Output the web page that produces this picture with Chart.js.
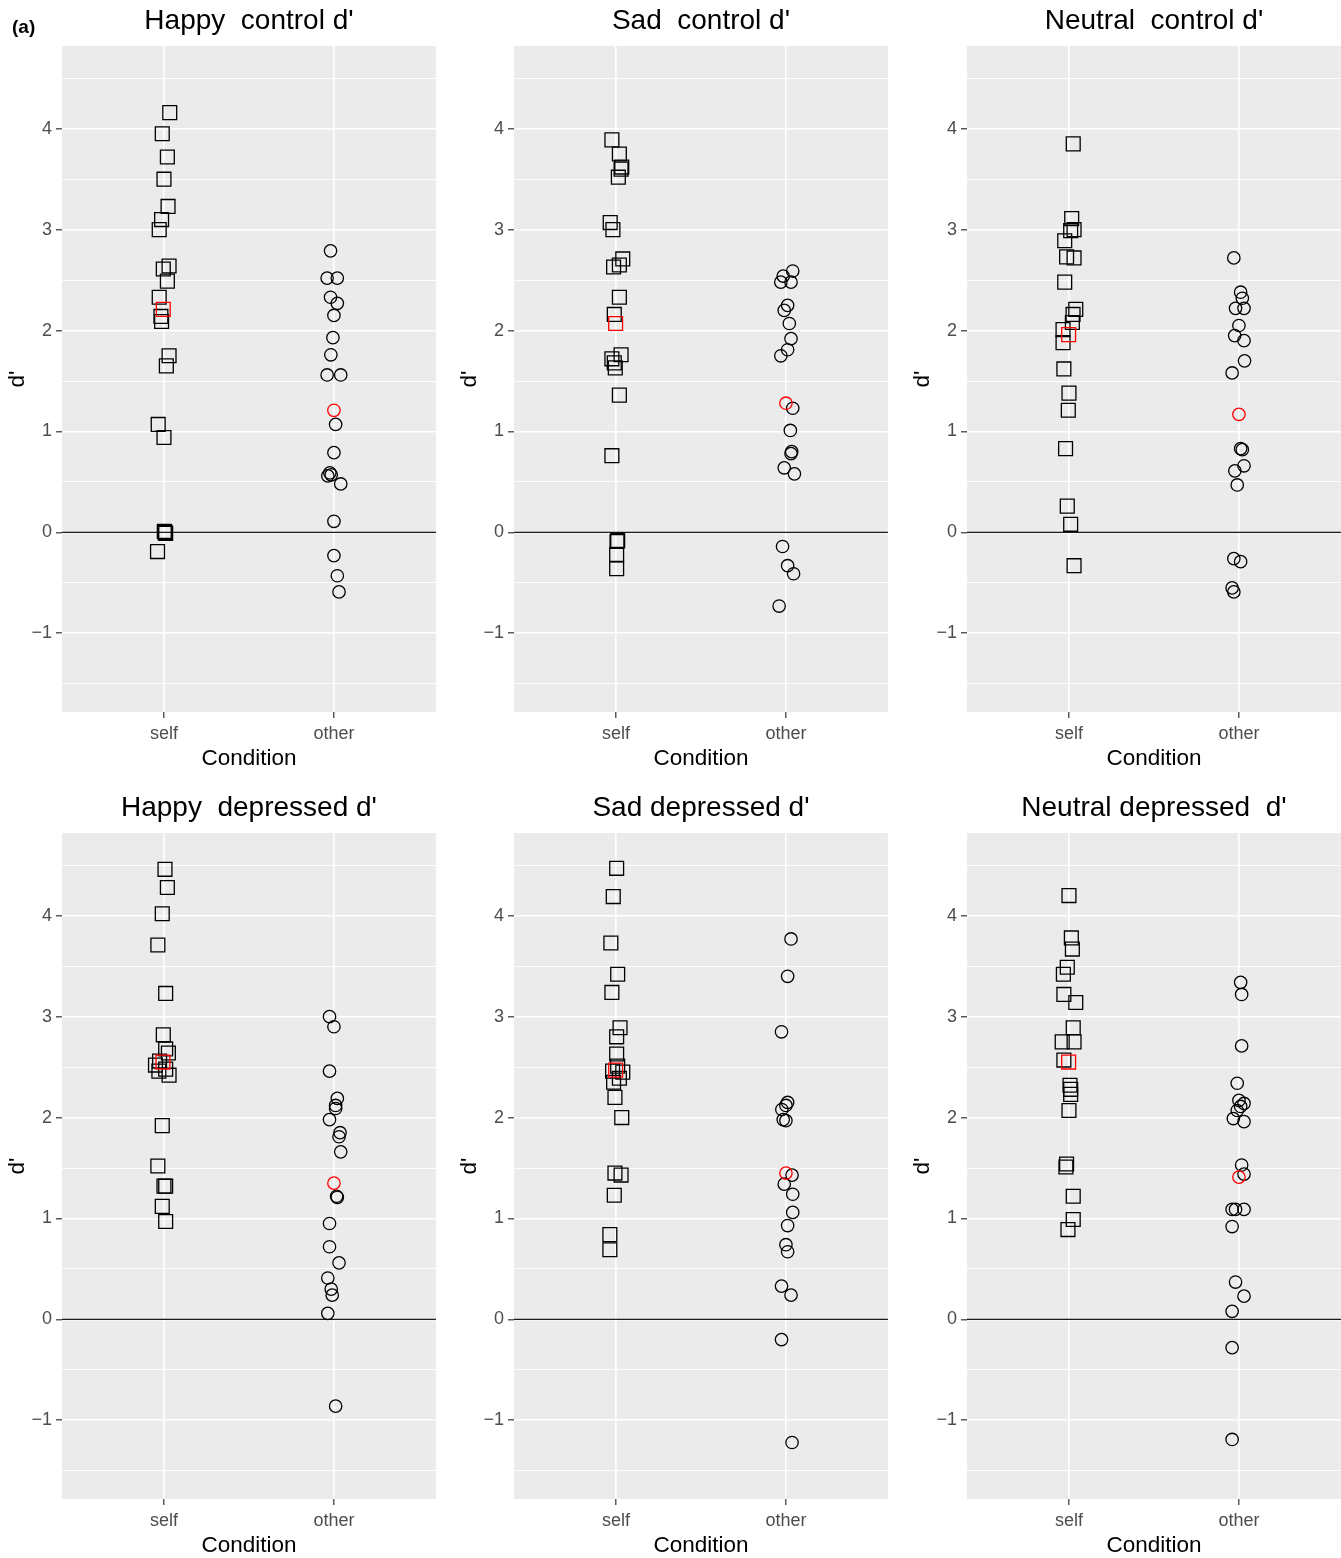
<!DOCTYPE html>
<html>
<head>
<meta charset="utf-8">
<title>d' by condition</title>
<script src="https://cdn.jsdelivr.net/npm/chart.js@4.4.1/dist/chart.umd.min.js"></script>
<style>
    html, body {
        margin: 0;
        padding: 0;
        background: #ffffff;
        width: 1341px;
        height: 1558px;
        overflow: hidden;
        position: relative;
    }
    .panel {
        position: absolute;
        width: 447px;
        height: 787px;
    }
    #tag {
        position: absolute;
        left: 12px;
        top: 16px;
        font: bold 19px "Liberation Sans", Arial, sans-serif;
        color: #000000;
        z-index: 2;
    }
</style>
</head>
<body>
<div id="tag">(a)</div>

<script>
// --- Data: [jittered x, d'] ---
const conditions = ['self', 'other'];
const xTickValues = [1, 2];
const yTickValues = [-1.5, -1, -0.5, 0, 0.5, 1, 1.5, 2, 2.5, 3, 3.5, 4, 4.5];
const refLine = 0;

const panelTitles = [
    "Happy  control d'", "Sad  control d'", "Neutral  control d'",
    "Happy  depressed d'", "Sad depressed d'", "Neutral depressed  d'"
];

const happyControlSelf = [[1.034,4.16],[0.990,3.95],[1.020,3.72],[1.000,3.50],[1.024,3.23],[0.986,3.10],[0.972,3.00],
    [1.030,2.64],[0.996,2.61],[1.020,2.49],[0.972,2.33],[0.982,2.14],[0.986,2.09],[1.030,1.75],[1.014,1.65],
    [0.966,1.07],[1.000,0.94],[1.006,0.00],[1.010,-0.01],[1.002,0.01],[0.962,-0.19]];
const happyControlOther = [[1.980,2.79],[1.960,2.52],[2.020,2.52],[1.980,2.33],[2.020,2.27],[2.000,2.15],[1.994,1.93],
    [1.982,1.76],[1.960,1.56],[2.040,1.56],[2.010,1.07],[2.000,0.79],[1.976,0.59],[1.964,0.56],[1.984,0.57],
    [2.040,0.48],[2.000,0.11],[2.000,-0.23],[2.020,-0.43],[2.030,-0.59]];
const happyControlMean = [[0.996,2.21],[2.000,1.21]];

const sadControlSelf = [[0.976,3.89],[1.020,3.75],[1.034,3.62],[1.030,3.60],[1.014,3.52],[0.966,3.07],[0.982,3.00],
    [1.040,2.71],[1.020,2.65],[0.986,2.63],[1.020,2.33],[0.990,2.16],[1.030,1.76],[0.976,1.72],[0.990,1.68],
    [0.996,1.63],[1.020,1.36],[0.976,0.76],[1.010,-0.08],[1.006,-0.09],[1.004,-0.22],[1.004,-0.36]];
const sadControlOther = [[2.040,2.59],[1.984,2.54],[1.970,2.48],[2.030,2.48],[2.010,2.25],[1.990,2.20],[2.020,2.07],
    [2.030,1.92],[2.010,1.81],[1.970,1.75],[2.040,1.23],[2.026,1.01],[2.034,0.80],[2.030,0.78],[1.990,0.64],
    [2.050,0.58],[1.980,-0.14],[2.010,-0.33],[2.045,-0.41],[1.960,-0.73]];
const sadControlMean = [[0.998,2.07],[2.000,1.28]];

const neutralControlSelf = [[1.025,3.85],[1.016,3.11],[1.030,3.00],[1.010,2.99],[0.975,2.89],[0.986,2.73],[1.030,2.72],
    [0.975,2.48],[1.040,2.21],[1.024,2.16],[1.020,2.08],[0.965,2.01],[0.965,1.88],[0.970,1.62],[1.000,1.38],
    [0.996,1.21],[0.980,0.83],[0.990,0.26],[1.010,0.08],[1.030,-0.33]];
const neutralControlOther = [[1.970,2.72],[2.010,2.38],[2.020,2.32],[1.980,2.22],[2.030,2.22],[2.000,2.05],[1.975,1.95],
    [2.030,1.90],[2.033,1.70],[1.960,1.58],[2.010,0.83],[2.020,0.82],[2.030,0.66],[1.976,0.61],[1.990,0.47],
    [1.970,-0.26],[2.010,-0.29],[1.960,-0.55],[1.970,-0.59]];
const neutralControlMean = [[0.998,1.96],[2.000,1.17]];

const happyDepressedSelf = [[1.006,4.46],[1.020,4.28],[0.990,4.02],[0.964,3.71],[1.010,3.23],[0.996,2.82],[1.026,2.64],
    [1.010,2.68],[0.974,2.56],[0.950,2.52],[0.970,2.46],[1.030,2.42],[1.010,2.48],[0.990,1.92],[0.964,1.52],
    [1.000,1.32],[1.010,1.32],[0.990,1.12],[1.010,0.97]];
const happyDepressedOther = [[1.974,3.00],[2.000,2.90],[1.974,2.46],[2.020,2.19],[2.010,2.12],[2.010,2.09],[1.974,1.98],
    [2.036,1.85],[2.030,1.81],[2.040,1.66],[2.016,1.22],[2.020,1.21],[1.974,0.95],[1.974,0.72],[2.030,0.56],
    [1.964,0.41],[1.984,0.30],[1.990,0.24],[1.964,0.06],[2.010,-0.86]];
const happyDepressedMean = [[0.994,2.55],[2.000,1.35]];

const sadDepressedSelf = [[1.004,4.47],[0.984,4.19],[0.970,3.73],[1.010,3.42],[0.976,3.24],[1.024,2.89],[1.004,2.80],
    [1.004,2.63],[1.010,2.51],[0.980,2.46],[1.040,2.45],[1.020,2.39],[0.986,2.35],[0.994,2.20],[1.034,2.00],
    [0.994,1.45],[1.030,1.43],[0.990,1.23],[0.964,0.84],[0.964,0.69]];
const sadDepressedOther = [[2.030,3.77],[2.010,3.40],[1.974,2.85],[2.010,2.15],[2.000,2.12],[1.976,2.08],[1.984,1.98],
    [2.000,1.97],[2.036,1.43],[1.990,1.34],[2.040,1.24],[2.040,1.06],[2.010,0.93],[2.000,0.74],[2.010,0.67],
    [1.974,0.33],[2.030,0.24],[1.974,-0.20],[2.036,-1.22]];
const sadDepressedMean = [[0.998,2.47],[2.000,1.45]];

const neutralDepressedSelf = [[1.000,4.20],[1.014,3.78],[1.020,3.67],[0.990,3.49],[0.967,3.42],[0.970,3.22],[1.040,3.14],
    [1.025,2.89],[1.030,2.75],[0.960,2.75],[0.970,2.57],[1.006,2.32],[1.010,2.28],[1.010,2.23],[1.000,2.07],
    [0.986,1.54],[0.982,1.51],[1.025,1.22],[1.025,0.99],[0.994,0.89]];
const neutralDepressedOther = [[2.010,3.34],[2.016,3.22],[2.016,2.71],[1.990,2.34],[2.000,2.17],[2.030,2.14],[2.010,2.11],
    [1.990,2.07],[1.967,1.99],[2.030,1.96],[2.016,1.53],[2.030,1.44],[1.960,1.09],[1.980,1.09],[2.030,1.09],
    [1.960,0.92],[1.980,0.37],[2.030,0.23],[1.960,0.08],[1.960,-0.28],[1.960,-1.19]];
const neutralDepressedMean = [[0.998,2.55],[2.000,1.41]];

// --- Layout / style ---
const FONT = '"Liberation Sans", Arial, sans-serif';
const X_MIN = 0.4, X_MAX = 2.6;
const Y_MIN = -1.78, Y_MAX = 4.82;
const SQUARE_R = 9.8;
const CIRCLE_R = 6.2;
const colLefts = [0, 452, 905];
const rowTops = [0, 787];

Chart.defaults.font.family = FONT;

// grey panel behind the grid, as in ggplot's default theme
const panelBackground = {
    id: 'panelBackground',
    beforeDraw(chart) {
        const { ctx, chartArea } = chart;
        ctx.save();
        ctx.fillStyle = '#EBEBEB';
        ctx.fillRect(chartArea.left, chartArea.top, chartArea.width, chartArea.height);
        ctx.restore();
    }
};

function toPoints(pairs) {
    return pairs.map(p => ({ x: p[0], y: p[1] }));
}

function isMajor(value) {
    return Number.isInteger(value);
}

function formatTick(value) {
    if (!isMajor(value)) { return ''; }
    return value < 0 ? '\u2212' + Math.abs(value) : String(value);
}

function drawPanel(index, selfPts, otherPts, meanPts) {
    const box = document.createElement('div');
    box.className = 'panel';
    box.style.left = colLefts[index % 3] + 'px';
    box.style.top = rowTops[Math.floor(index / 3)] + 'px';
    const canvas = document.createElement('canvas');
    box.appendChild(canvas);
    document.body.appendChild(box);

    new Chart(canvas, {
        type: 'scatter',
        data: {
            datasets: [
                {
                    data: toPoints(meanPts),
                    pointStyle: ['rect', 'circle'],
                    pointRadius: [SQUARE_R, CIRCLE_R],
                    borderColor: '#FF0000',
                    backgroundColor: 'rgba(0,0,0,0)',
                    borderWidth: 1.3,
                    order: 0
                },
                {
                    data: toPoints(selfPts),
                    pointStyle: 'rect',
                    pointRadius: SQUARE_R,
                    borderColor: '#000000',
                    backgroundColor: 'rgba(0,0,0,0)',
                    borderWidth: 1.3,
                    order: 1
                },
                {
                    data: toPoints(otherPts),
                    pointStyle: 'circle',
                    pointRadius: CIRCLE_R,
                    borderColor: '#000000',
                    backgroundColor: 'rgba(0,0,0,0)',
                    borderWidth: 1.3,
                    order: 1
                },
                {
                    type: 'line',
                    data: [{ x: X_MIN, y: refLine }, { x: X_MAX, y: refLine }],
                    borderColor: '#1A1A1A',
                    borderWidth: 1.3,
                    pointRadius: 0,
                    order: 2
                }
            ]
        },
        options: {
            animation: false,
            responsive: true,
            maintainAspectRatio: false,
            events: [],
            layout: { padding: { left: 0, right: 1, top: 0, bottom: 0 } },
            plugins: {
                legend: { display: false },
                tooltip: { enabled: false },
                title: {
                    display: true,
                    text: panelTitles[index],
                    fullSize: false,
                    color: '#000000',
                    font: { size: 28, weight: 'normal', family: FONT },
                    padding: { top: 4, bottom: 8.4 }
                }
            },
            scales: {
                x: {
                    type: 'linear',
                    min: X_MIN,
                    max: X_MAX,
                    afterBuildTicks: scale => { scale.ticks = xTickValues.map(v => ({ value: v })); },
                    afterFit: scale => { scale.height = 75; },
                    border: { display: false },
                    grid: { color: '#FFFFFF', lineWidth: 1.6, tickColor: '#333333', tickLength: 6, tickWidth: 1.2 },
                    ticks: {
                        color: '#4D4D4D',
                        font: { size: 18 },
                        padding: 5,
                        autoSkip: false,
                        maxRotation: 0,
                        callback: value => conditions[value - 1]
                    },
                    title: {
                        display: true,
                        text: 'Condition',
                        color: '#000000',
                        font: { size: 22.5 },
                        padding: { top: 0, bottom: 15 }
                    }
                },
                y: {
                    min: Y_MIN,
                    max: Y_MAX,
                    afterBuildTicks: scale => { scale.ticks = yTickValues.map(v => ({ value: v })); },
                    afterFit: scale => { scale.width = 62; },
                    border: { display: false },
                    grid: {
                        color: '#FFFFFF',
                        lineWidth: ctx => (isMajor(ctx.tick.value) ? 1.6 : 0.9),
                        tickColor: ctx => (isMajor(ctx.tick.value) ? '#333333' : 'rgba(0,0,0,0)'),
                        tickLength: 6,
                        tickWidth: 1.2
                    },
                    ticks: {
                        color: '#4D4D4D',
                        font: { size: 18 },
                        padding: 4,
                        autoSkip: false,
                        callback: value => formatTick(value)
                    },
                    title: {
                        display: true,
                        text: "d'",
                        color: '#000000',
                        font: { size: 22.5 },
                        padding: { top: 4.5, bottom: 0 }
                    }
                }
            }
        },
        plugins: [panelBackground]
    });
}

drawPanel(0, happyControlSelf, happyControlOther, happyControlMean);
drawPanel(1, sadControlSelf, sadControlOther, sadControlMean);
drawPanel(2, neutralControlSelf, neutralControlOther, neutralControlMean);
drawPanel(3, happyDepressedSelf, happyDepressedOther, happyDepressedMean);
drawPanel(4, sadDepressedSelf, sadDepressedOther, sadDepressedMean);
drawPanel(5, neutralDepressedSelf, neutralDepressedOther, neutralDepressedMean);
</script>
</body>
</html>
